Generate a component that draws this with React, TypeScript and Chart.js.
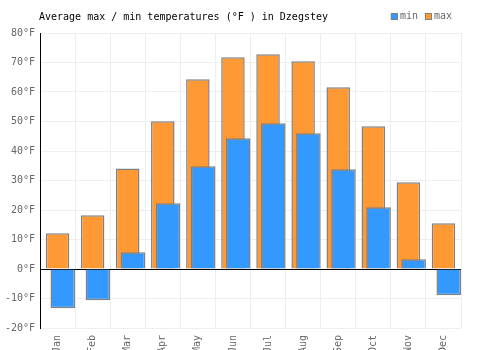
import React, { useEffect, useRef } from "react";
import { Chart, registerables } from "chart.js";

Chart.register(...registerables);

const TITLE = "Average max / min temperatures (°F ) in Dzegstey";
const MONTHS = ["Jan", "Feb", "Mar", "Apr", "May", "Jun", "Jul", "Aug", "Sep", "Oct", "Nov", "Dec"];
const MAX_TEMPS = [12.1, 18.2, 34.1, 50.1, 64.3, 71.8, 72.8, 70.4, 61.6, 48.4, 29.4, 15.5];
const MIN_TEMPS = [-13.3, -10.6, 5.7, 22.3, 34.8, 44.3, 49.4, 46.0, 33.8, 20.9, 3.3, -8.9];
const Y_MIN = -20;
const Y_MAX = 80;
const Y_STEP = 10;

const FONT_FAMILY = '"DejaVu Sans Mono", monospace';
const MIN_COLOR = "#3399ff";
const MAX_COLOR = "#ff9933";
const BORDER_COLOR = "#808080";

const shiftMinBars = {
  id: "shiftMinBars",
  afterDatasetsUpdate(chart: any) {
    const xs = chart.scales.x;
    const cat = xs.width / MONTHS.length;
    const meta = chart.getDatasetMeta(0);
    meta.data.forEach((el: any) => {
      el.x = el.x + cat * 0.15;
    });
  },
};

const headerPlugin = {
  id: "header",
  afterDraw(chart: any) {
    const ctx = chart.ctx;
    ctx.save();
    ctx.font = `10px ${FONT_FAMILY}`;
    ctx.textBaseline = "middle";
    ctx.textAlign = "left";
    ctx.fillStyle = "#000";
    ctx.fillText(TITLE, chart.chartArea.left - 1, 17);

    // legend, right-aligned
    const items = chart.data.datasets.map((d: any) => ({
      label: d.label,
      color: d.backgroundColor,
    }));
    const box = 7;
    const gap = 2;
    const itemGap = 7;
    const widths = items.map((it: any) => box + gap + ctx.measureText(it.label).width);
    const total = widths.reduce((a: number, b: number) => a + b, 0) + itemGap * (items.length - 1);
    let x = chart.chartArea.right - 9 - total;
    const cy = 16.5;
    items.forEach((it: any, i: number) => {
      ctx.fillStyle = it.color;
      ctx.fillRect(x, cy - box / 2, box, box);
      ctx.strokeStyle = BORDER_COLOR;
      ctx.lineWidth = 1;
      ctx.strokeRect(x + 0.5, cy - box / 2 + 0.5, box - 1, box - 1);
      ctx.fillStyle = "#666";
      ctx.fillText(it.label, x + box + gap, cy);
      x += widths[i] + itemGap;
    });
    ctx.restore();
  },
};

export default function App() {
  const ref = useRef<HTMLCanvasElement>(null);
  useEffect(() => {
    if (!ref.current) return;
    const chart = new Chart(ref.current, {
      type: "bar",
      data: {
        labels: MONTHS,
        datasets: [
          {
            label: "min",
            data: MIN_TEMPS,
            backgroundColor: MIN_COLOR,
            borderColor: BORDER_COLOR,
            borderWidth: 1.5,
            grouped: false,
            barPercentage: 0.7,
            categoryPercentage: 1,
          },
          {
            label: "max",
            data: MAX_TEMPS,
            backgroundColor: MAX_COLOR,
            borderColor: BORDER_COLOR,
            borderWidth: 1.5,
            grouped: false,
            barPercentage: 0.67,
            categoryPercentage: 1,
          },
        ],
      },
      options: {
        animation: false,
        responsive: true,
        maintainAspectRatio: false,
        layout: { padding: { top: 33, right: 39, left: 0, bottom: 0 } },
        plugins: {
          title: { display: false },
          tooltip: { enabled: false },
          legend: { display: false },
        },
        scales: {
          x: {
            offset: true,
            grid: { color: "#eeeeee", offset: true, drawTicks: false },
            border: { display: false },
            ticks: {
              minRotation: 90,
              maxRotation: 90,
              padding: 7,
              color: "#666",
              font: { family: FONT_FAMILY, size: 10 },
            },
            afterFit: (scale: any) => {
              scale.height = 22;
            },
          },
          y: {
            min: Y_MIN,
            max: Y_MAX,
            grid: {
              color: (c: any) => (c.tick && c.tick.value === 0 ? "#000" : "#eeeeee"),
              drawTicks: false,
            },
            border: { display: true, color: "#000" },
            ticks: {
              stepSize: Y_STEP,
              padding: 5,
              color: "#666",
              font: { family: FONT_FAMILY, size: 10 },
              callback: (v: any) => `${v}°F`,
            },
            afterFit: (scale: any) => {
              scale.width = 40;
            },
          },
        },
      },
      plugins: [shiftMinBars, headerPlugin],
    });
    return () => chart.destroy();
  }, []);
  return (
    <div style={{ position: "absolute", left: 0, top: 0, width: 500, height: 350, background: "#fff" }}>
      <canvas ref={ref} />
    </div>
  );
}
